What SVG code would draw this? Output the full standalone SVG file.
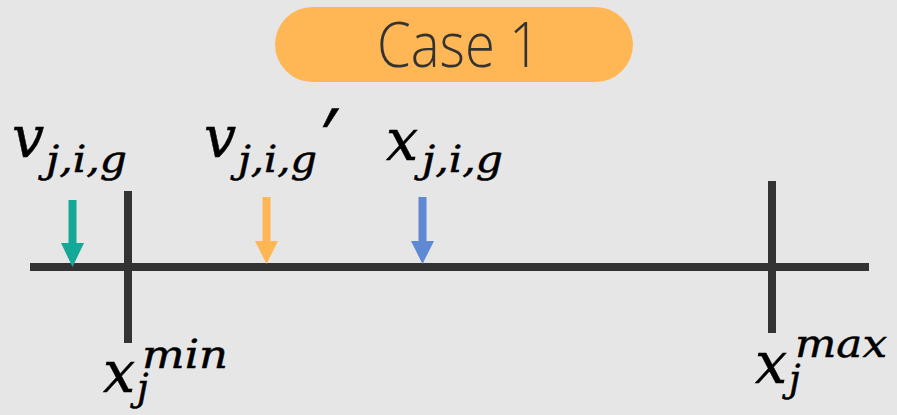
<svg xmlns="http://www.w3.org/2000/svg" width="897" height="415" viewBox="0 0 897 415">
  <style>
    .axis { stroke: #333333; stroke-width: 8; fill: none; }
    .m { font-family: "DejaVu Serif", "Liberation Serif", serif; font-style: italic; fill: #000; stroke: #000; stroke-width: 0.5; font-size: 57px; }
    .sub { font-size: 37px; }
    .sup { font-size: 40px; }
    .prime { font-family: "Noto Sans", "DejaVu Sans", sans-serif; font-style: italic; font-size: 72px; }
    .title { font-family: "Open Sans", "Noto Sans", sans-serif; font-weight: 350; font-size: 62px; fill: #333333; }
  </style>
  <rect width="897" height="415" fill="#e6e6e6"/>

  <!-- title badge -->
  <g id="title">
    <rect x="275" y="7" width="358" height="75" rx="37.5" fill="#ffb755"/>
    <text class="title" x="377" y="67" textLength="163" lengthAdjust="spacingAndGlyphs">Case 1</text>
  </g>

  <!-- number line with bounds -->
  <g id="axis">
    <line class="axis" x1="30" y1="267" x2="869" y2="267"/>
  </g>
  <g id="xmin">
    <line class="axis" x1="128" y1="191" x2="128" y2="343"/>
    <text class="m" x="103" y="392">x<tspan class="sub" x="137" y="400">j</tspan><tspan class="sup" x="142" y="368" textLength="86" lengthAdjust="spacingAndGlyphs">min</tspan></text>
  </g>
  <g id="xmax">
    <line class="axis" x1="772" y1="181" x2="772" y2="333"/>
    <text class="m" x="755" y="383">x<tspan class="sub" x="789" y="391">j</tspan><tspan class="sup" x="795" y="357" textLength="92" lengthAdjust="spacingAndGlyphs">max</tspan></text>
  </g>

  <!-- labelled points -->
  <g id="v">
    <text class="m" x="12" y="157">v<tspan class="sub" x="46" y="172" textLength="81" lengthAdjust="spacingAndGlyphs">j,i,g</tspan></text>
  </g>
  <g id="v-prime">
    <text class="m" x="204" y="157">v<tspan class="sub" x="238" y="172" textLength="79" lengthAdjust="spacingAndGlyphs">j,i,g</tspan><tspan class="prime" x="318" y="160">′</tspan></text>
  </g>
  <g id="x">
    <text class="m" x="386" y="160">x<tspan class="sub" x="422" y="172" textLength="81" lengthAdjust="spacingAndGlyphs">j,i,g</tspan></text>
  </g>

  <!-- arrows pointing at the line -->
  <g id="connectors">
    <line x1="72.5" y1="200" x2="72.5" y2="244" stroke="#14a898" stroke-width="8"/>
    <polygon points="61,243 84,243 72.5,267" fill="#14a898"/>
    <line x1="266.5" y1="197" x2="266.5" y2="242" stroke="#ffb755" stroke-width="8"/>
    <polygon points="255,241 278,241 266.5,264" fill="#ffb755"/>
    <line x1="422.5" y1="197" x2="422.5" y2="242" stroke="#5f89d3" stroke-width="8"/>
    <polygon points="411,241 434,241 422.5,264" fill="#5f89d3"/>
  </g>
</svg>
